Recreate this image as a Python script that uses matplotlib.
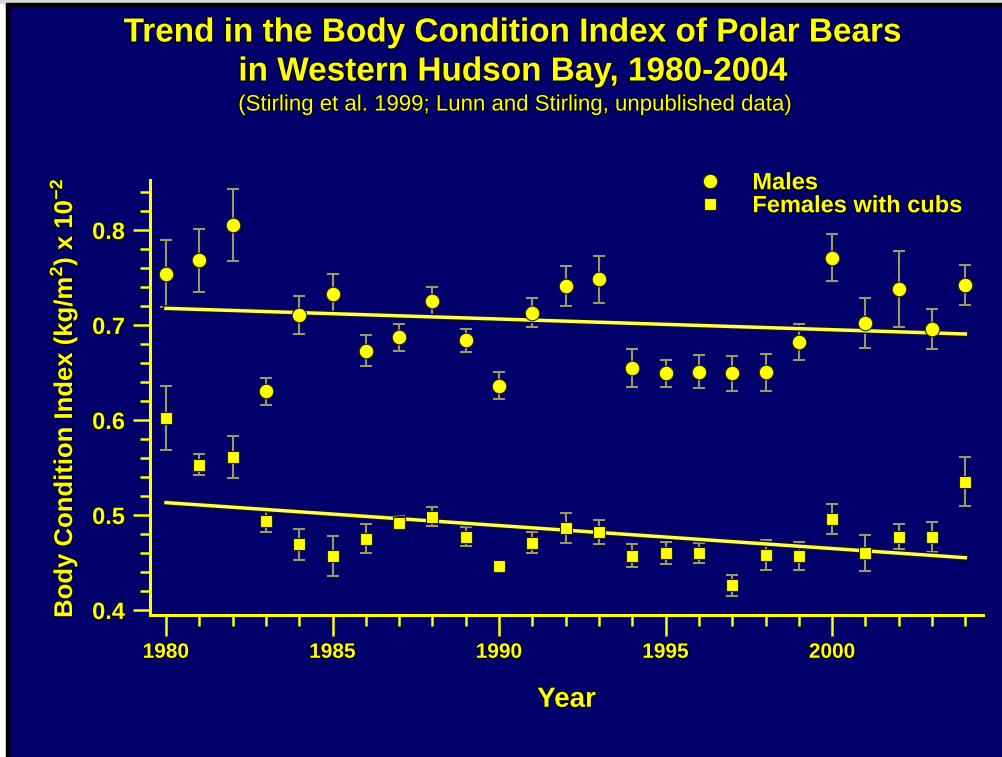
import numpy as np
import matplotlib
matplotlib.use("Agg")
import matplotlib.pyplot as plt
import matplotlib.patheffects as pe
from matplotlib.patches import Rectangle
from matplotlib.ticker import MultipleLocator
from matplotlib.lines import Line2D

# Body condition index (x 10^-2) per year, with standard errors
years = np.arange(1980, 2005)
males = [0.754, 0.768, 0.805, 0.630, 0.710, 0.733, 0.673, 0.687, 0.725, 0.684,
         0.636, 0.713, 0.741, 0.748, 0.655, 0.649, 0.651, 0.649, 0.650, 0.682,
         0.771, 0.702, 0.738, 0.696, 0.742]
males_se = [0.035, 0.033, 0.038, 0.014, 0.020, 0.021, 0.016, 0.014, 0.015, 0.012,
            0.014, 0.015, 0.021, 0.025, 0.020, 0.014, 0.017, 0.018, 0.019, 0.019,
            0.025, 0.026, 0.040, 0.021, 0.021]
females = [0.602, 0.553, 0.561, 0.494, 0.469, 0.457, 0.475, 0.492, 0.498, 0.477,
           0.446, 0.471, 0.486, 0.482, 0.457, 0.460, 0.460, 0.426, 0.458, 0.457,
           0.496, 0.460, 0.477, 0.477, 0.535]
females_se = [0.034, 0.011, 0.022, 0.012, 0.016, 0.021, 0.015, 0.007, 0.010, 0.010,
              0.004, 0.011, 0.016, 0.013, 0.012, 0.012, 0.011, 0.011, 0.016, 0.015,
              0.016, 0.019, 0.013, 0.016, 0.026]

# fitted trend lines (value at 1980 and at 2004)
trend_years = [1980, 2004]
males_trend = [0.7175, 0.6905]
females_trend = [0.513, 0.455]

navy = "#02006a"
yellow = "#ffff00"
barcol = "#9a9a62"
shadow = [pe.withStroke(linewidth=2, foreground="#000022")]

plt.rcParams["font.family"] = ["Liberation Sans", "DejaVu Sans"]
plt.rcParams["mathtext.fontset"] = "custom"
plt.rcParams["mathtext.bf"] = "Liberation Sans:bold"
plt.rcParams["mathtext.rm"] = "Liberation Sans:bold"

fig = plt.figure(figsize=(10.03, 7.57), dpi=100, facecolor=navy)

# white frame strips on the left and top with a thin black edge
W, H = 1003.0, 757.0
fig.patches.append(Rectangle((0, 0), 6 / W, 1, transform=fig.transFigure, color="white", zorder=0))
fig.patches.append(Rectangle((6 / W, 0), 2.5 / W, 1 - 3 / H, transform=fig.transFigure, color="black", zorder=0))
fig.patches.append(Rectangle((0, 1 - 3 / H), 1, 3 / H, transform=fig.transFigure, color="#d8d8d8", zorder=0))
fig.patches.append(Rectangle((6 / W, 1 - 5.5 / H), 1, 2.5 / H, transform=fig.transFigure, color="black", zorder=0))

ax = fig.add_axes([150 / W, 1 - 615 / H, 833 / W, 435 / H])
ax.set_facecolor(navy)

ax.errorbar(years, males, yerr=males_se, fmt="none", ecolor=barcol, elinewidth=1.5,
            capsize=4, capthick=1.5, zorder=2)
ax.errorbar(years, females, yerr=females_se, fmt="none", ecolor=barcol, elinewidth=1.5,
            capsize=4, capthick=1.5, zorder=2)

line_fx = [pe.Stroke(linewidth=4.5, foreground="#101020"), pe.Normal()]
ax.plot(trend_years, males_trend, color="#ffff55", lw=2.5, zorder=3, path_effects=line_fx)
ax.plot(trend_years, females_trend, color="#ffff55", lw=2.5, zorder=3, path_effects=line_fx)

ax.plot(years, males, "o", ms=10.5, color=yellow, mec="#202010", mew=0.8, zorder=4)
ax.plot(years, females, "s", ms=9, color=yellow, mec="#202010", mew=0.8, zorder=4)

ax.set_xlim(1979.52, 2004.53)
ax.set_ylim(0.3947, 0.8526)

for side in ["top", "right"]:
    ax.spines[side].set_visible(False)
for side in ["left", "bottom"]:
    ax.spines[side].set_color(yellow)
    ax.spines[side].set_linewidth(2.2)

ax.xaxis.set_major_locator(MultipleLocator(5))
ax.xaxis.set_minor_locator(MultipleLocator(1))
ax.yaxis.set_major_locator(MultipleLocator(0.1))
ax.yaxis.set_minor_locator(MultipleLocator(0.02))
ax.tick_params(axis="x", which="major", length=15, width=1.8, color=yellow, pad=5)
ax.tick_params(axis="x", which="minor", length=8, width=1.8, color=yellow)
ax.tick_params(axis="y", which="major", length=12, width=1.8, color=yellow, pad=6)
ax.tick_params(axis="y", which="minor", length=7, width=1.8, color=yellow)
ax.xaxis.set_major_formatter(matplotlib.ticker.FuncFormatter(lambda v, p: "%d" % v))
ax.yaxis.set_major_formatter(matplotlib.ticker.FuncFormatter(lambda v, p: "%.1f" % v))

for lab in ax.get_xticklabels():
    lab.set_color(yellow)
    lab.set_fontsize(15)
    lab.set_fontweight("bold")
    lab.set_path_effects(shadow)
for lab in ax.get_yticklabels():
    lab.set_color(yellow)
    lab.set_fontsize(17)
    lab.set_fontweight("bold")
    lab.set_path_effects(shadow)

ax.set_xlabel("Year", color=yellow, fontsize=20, fontweight="bold", labelpad=18,
              path_effects=shadow)
ax.set_ylabel(r"Body Condition Index (kg/m$^\mathbf{2}$) x 10$^\mathbf{-2}$", color=yellow,
              fontsize=18.5, fontweight="bold", labelpad=9, path_effects=shadow)

handles = [Line2D([], [], ls="none", marker="o", ms=10.5, color=yellow, mec="#202010", mew=0.8),
           Line2D([], [], ls="none", marker="s", ms=9, color=yellow, mec="#202010", mew=0.8)]
leg = ax.legend(handles, ["Males", "Females with cubs"], loc="upper left",
                bbox_to_anchor=(0.633, 1.069), frameon=False, handlelength=1.0,
                handletextpad=1.28, labelspacing=0.0, borderpad=0.4,
                prop={"weight": "bold", "size": 17})
for t in leg.get_texts():
    t.set_color(yellow)
    t.set_path_effects(shadow)

fig.text(0.512, 1 - 33 / H, "Trend in the Body Condition Index of Polar Bears",
         ha="center", va="center", color=yellow, fontsize=24, fontweight="bold",
         path_effects=shadow)
fig.text(0.512, 1 - 72 / H, "in Western Hudson Bay, 1980-2004",
         ha="center", va="center", color=yellow, fontsize=24, fontweight="bold",
         path_effects=shadow)
fig.text(0.514, 1 - 105 / H, "(Stirling et al. 1999; Lunn and Stirling, unpublished data)",
         ha="center", va="center", color=yellow, fontsize=16, path_effects=shadow)

fig.savefig("out.png", dpi=100, facecolor=navy)
